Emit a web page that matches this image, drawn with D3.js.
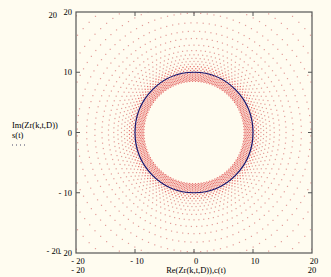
<!DOCTYPE html>
<html>
<head>
<meta charset="utf-8">
<script src="https://cdn.jsdelivr.net/npm/d3@7"></script>
<style>
  body { margin: 0; background: #fffcf0; }
  svg { font-family: "Liberation Serif", "DejaVu Serif", serif; font-size: 8.5px; }
</style>
</head>
<body>
<div class="visual"></div>
<script>
const width = 331;
const height = 277;

// data
const xDomain = [-20, 20];
const yDomain = [-20, 20];
const tickValues = [-20, -10, 0, 10, 20];
const circleRadius = 10; // c(t), s(t)
// radii of the rings of Zr(k,t,D) points
const ringRadii = [8.5, 8.65, 8.8, 8.95, 9.1, 9.25, 9.4, 9.55, 9.7, 9.85, 10.05, 10.3,
  10.6, 10.95, 11.35, 11.8, 12.3, 12.9, 13.6, 14.5, 15.6, 16.8, 18.2, 19.8, 21.5,
  23.4, 25.5, 27.8];
const pointsPerRing = 110;
const xLabel = "Re(Zr(k,t,D)),c(t)";
const yLabels = ["Im(Zr(k,t,D))", "s(t)"];

const margin = { left: 76, right: 19, top: 12, bottom: 24 };

const svg = d3
  .select(".visual")
  .append("svg")
  .attr("width", width)
  .attr("height", height);

const x = d3.scaleLinear().domain(xDomain).range([margin.left, width - margin.right]);
const y = d3.scaleLinear().domain(yDomain).range([height - margin.bottom, margin.top]);

svg.append("clipPath").attr("id", "plot")
  .append("rect")
  .attr("x", x(-20)).attr("y", y(20))
  .attr("width", x(20) - x(-20)).attr("height", y(-20) - y(20));

// red points
const pts = [];
ringRadii.forEach((r, k) => {
  for (let i = 0; i < pointsPerRing; i++) {
    const t = (2 * Math.PI * (i + (k % 2) * 0.5)) / pointsPerRing;
    pts.push({ r: r, p: [r * Math.cos(t), r * Math.sin(t)] });
  }
});

const g = svg.append("g").attr("clip-path", "url(#plot)");
g.selectAll("rect.pt")
  .data(pts)
  .enter()
  .append("rect")
  .attr("class", "pt")
  .attr("x", (d) => x(d.p[0]) - 0.6)
  .attr("y", (d) => y(d.p[1]) - 0.6)
  .attr("width", 1.2)
  .attr("height", 1.2)
  .attr("fill", (d) => (d.r < 11 ? "#e04848" : "#d06060"))
  .attr("opacity", (d) => (d.r < 11 ? 0.8 : 0.6));

// blue circle c(t), s(t)
g.append("ellipse")
  .attr("cx", x(0))
  .attr("cy", y(0))
  .attr("rx", x(circleRadius) - x(0))
  .attr("ry", y(0) - y(circleRadius))
  .attr("fill", "none")
  .attr("stroke", "#14146e")
  .attr("stroke-width", 1.2);

// frame
svg.append("rect")
  .attr("x", x(-20)).attr("y", y(20))
  .attr("width", x(20) - x(-20)).attr("height", y(-20) - y(20))
  .attr("fill", "none")
  .attr("stroke", "#555")
  .attr("stroke-width", 1.2);

// inward ticks on all sides
const tl = 4;
const inner = [-10, 0, 10];
svg.selectAll("line.tb")
  .data(inner)
  .enter()
  .append("line")
  .attr("x1", (d) => x(d)).attr("x2", (d) => x(d))
  .attr("y1", y(-20)).attr("y2", y(-20) - tl)
  .attr("stroke", "#555");
svg.selectAll("line.tt")
  .data(inner)
  .enter()
  .append("line")
  .attr("x1", (d) => x(d)).attr("x2", (d) => x(d))
  .attr("y1", y(20)).attr("y2", y(20) + tl)
  .attr("stroke", "#555");
svg.selectAll("line.tl")
  .data(inner)
  .enter()
  .append("line")
  .attr("y1", (d) => y(d)).attr("y2", (d) => y(d))
  .attr("x1", x(-20)).attr("x2", x(-20) + tl)
  .attr("stroke", "#555");
svg.selectAll("line.tr")
  .data(inner)
  .enter()
  .append("line")
  .attr("y1", (d) => y(d)).attr("y2", (d) => y(d))
  .attr("x1", x(20)).attr("x2", x(20) - tl)
  .attr("stroke", "#555");

// tick labels
svg.selectAll("text.yt")
  .data(tickValues)
  .enter()
  .append("text")
  .attr("x", x(-20) - 4)
  .attr("y", (d) => y(d) + 3)
  .attr("text-anchor", "end")
  .text((d) => (d < 0 ? "- " + -d : d));
svg.selectAll("text.xt")
  .data(tickValues)
  .enter()
  .append("text")
  .attr("x", (d) => x(d) + 2)
  .attr("y", y(-20) + 11)
  .attr("text-anchor", "middle")
  .text((d) => (d < 0 ? "- " + -d : d));

// range labels
svg.append("text").attr("x", 57).attr("y", y(20) + 6).attr("text-anchor", "end").text("20");
svg.append("text").attr("x", 60).attr("y", y(-20) + 1).attr("text-anchor", "end").text("- 20");
svg.append("text").attr("x", x(-20) + 2).attr("y", 273).attr("text-anchor", "middle").text("- 20");
svg.append("text").attr("x", x(20)).attr("y", 273).attr("text-anchor", "middle").text("20");
svg.append("text").attr("x", 196).attr("y", 273).attr("text-anchor", "middle").text(xLabel);

// y labels
svg.selectAll("text.yl")
  .data(yLabels)
  .enter()
  .append("text")
  .attr("x", 12)
  .attr("y", (d, i) => 128 + i * 10)
  .text((d) => d);
svg.append("line")
  .attr("x1", 12).attr("x2", 26)
  .attr("y1", 145).attr("y2", 145)
  .attr("stroke", "#446")
  .attr("stroke-dasharray", "1,3");
</script>
</body>
</html>
